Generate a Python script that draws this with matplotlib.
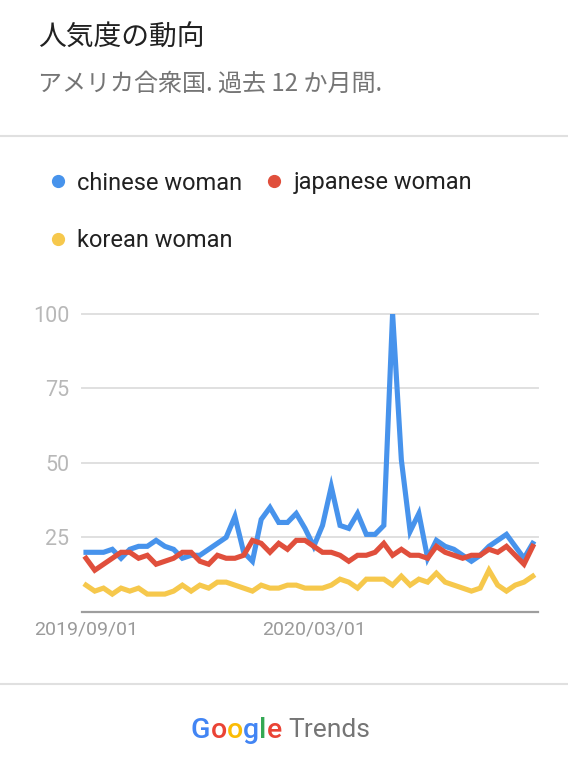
import numpy as np
import pandas as pd
import matplotlib
matplotlib.use('Agg')
import matplotlib.pyplot as plt
from matplotlib.lines import Line2D

W, H = 568, 778

# weekly values (Google Trends, US, last 12 months)
weeks = pd.date_range('2019-09-01', periods=52, freq='7D')
chinese = [20, 20, 20, 21, 18, 21, 22, 22, 24, 22, 21, 18, 19, 19, 21, 23, 25, 32, 20, 17,
           31, 35, 30, 30, 33, 28, 22, 29, 42, 29, 28, 33, 26, 26, 29, 100, 51, 27, 33, 18,
           24, 22, 21, 19, 17, 19, 22, 24, 26, 22, 18, 23]
japanese = [18, 14, 16, 18, 20, 20, 18, 19, 16, 17, 18, 20, 20, 17, 16, 19, 18, 18, 19, 24,
            23, 20, 23, 21, 24, 24, 22, 20, 20, 19, 17, 19, 19, 20, 23, 19, 21, 19, 19, 18,
            22, 20, 19, 18, 19, 19, 21, 20, 22, 19, 16, 22]
korean = [9, 7, 8, 6, 8, 7, 8, 6, 6, 6, 7, 9, 7, 9, 8, 10, 10, 9, 8, 7,
          9, 8, 8, 9, 9, 8, 8, 8, 9, 11, 10, 8, 11, 11, 11, 9, 12, 9, 11, 10,
          13, 10, 9, 8, 7, 8, 14, 9, 7, 9, 10, 12]

series_names = ['chinese woman', 'japanese woman', 'korean woman']
series_colors = ['#4793ec', '#e04f3c', '#f6c84c']
y_ticks = [25, 50, 75, 100]
x_ticks = ['2019-09-01', '2020-03-01']
x_labels = ['2019/09/01', '2020/03/01']

title = '人気度の動向'
subtitle = 'アメリカ合衆国. 過去 12 か月間.'

plt.rcParams['font.family'] = ['Roboto', 'Noto Sans CJK JP', 'DejaVu Sans']

def fx(px):
    return px / W

def fy(py):
    return 1 - py / H

fig = plt.figure(figsize=(W / 100, H / 100), dpi=100)
fig.patch.set_facecolor('white')

# header
fig.text(fx(38), fy(37.5), title, fontsize=20, color='#212121', va='center', ha='left',
         family=['Noto Sans CJK JP', 'DejaVu Sans'])
fig.text(fx(38), fy(84), subtitle, fontsize=17.3, color='#757575', va='center', ha='left',
         family=['Noto Sans CJK JP', 'DejaVu Sans'])

for yy in (136, 684):
    fig.add_artist(Line2D([0, 1], [fy(yy), fy(yy)], color='#e0e0e0', lw=1.5,
                          transform=fig.transFigure))

# plot area
ax = fig.add_axes([fx(82), fy(612), (538 - 82) / W, (612 - 313.5) / H])
data = [chinese, japanese, korean]
for vals, c in zip(data, series_colors):
    ax.plot(weeks, vals, color=c, lw=3.7, solid_joinstyle='miter', zorder=3)

ax.set_ylim(0, 100)
ax.set_xlim(weeks[0] - pd.Timedelta(days=3.2), weeks[-1] + pd.Timedelta(days=4.2))
ax.set_yticks(y_ticks)
ax.set_xticks(pd.to_datetime(x_ticks))
ax.set_xticklabels(x_labels)
ax.yaxis.grid(True, color='#e0e0e0', lw=1.4)
for gl in ax.get_ygridlines():
    gl.set_clip_on(False)
ax.set_axisbelow(True)
for s in ['top', 'right', 'left']:
    ax.spines[s].set_visible(False)
ax.spines['bottom'].set_color('#9e9e9e')
ax.spines['bottom'].set_linewidth(1.6)
ax.tick_params(axis='y', length=0, labelsize=15.5, labelcolor='#b8b8b8', pad=9)
ax.tick_params(axis='x', length=0, labelsize=14, labelcolor='#9a9a9a', pad=6)

# legend: column-major order so rows read chinese/japanese, korean
handles = [Line2D([], [], marker='o', ls='none', ms=8.5, color=c) for c in series_colors]
order = [0, 2, 1]
fig.legend([handles[i] for i in order], [series_names[i] for i in order],
           loc='upper left', bbox_to_anchor=(fx(48.3), fy(171.5)), ncol=2, frameon=False,
           fontsize=17, labelcolor='#212121', handlelength=0.8, handletextpad=0.42,
           labelspacing=1.48, columnspacing=0.96, borderpad=0, borderaxespad=0)

# Google Trends logo
logo = [('G', '#4285f4'), ('o', '#ea4335'), ('o', '#fbbc05'), ('g', '#4285f4'),
        ('l', '#34a853'), ('e', '#ea4335')]
renderer = fig.canvas.get_renderer()
x = 191
for ch, c in logo:
    t = fig.text(fx(x), fy(730), ch, fontsize=20.5, color=c, va='center', ha='left',
                 fontweight='medium')
    ext = t.get_window_extent(renderer)
    x += ext.width
fig.text(fx(x + 7), fy(730), 'Trends', fontsize=19, color='#757575', va='center', ha='left')

fig.savefig('out.png', dpi=100, facecolor='white')
